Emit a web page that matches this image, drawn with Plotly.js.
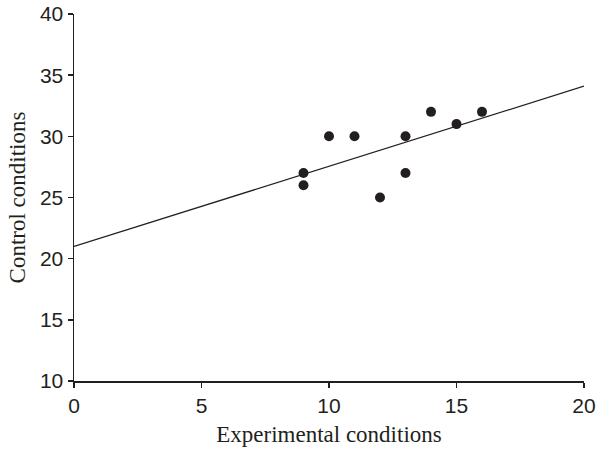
<!DOCTYPE html>
<html>
<head>
<meta charset="utf-8">
<script src="https://cdn.plot.ly/plotly-3.0.1.min.js"></script>
<style>html,body{margin:0;padding:0;background:#fff}#chart{width:602px;height:452px}</style>
</head>
<body>
<div id="chart"></div>
<script>
const pointsX = [9, 9, 10, 11, 12, 13, 13, 14, 15, 16];
const pointsY = [27, 26, 30, 30, 25, 30, 27, 32, 31, 32];
const lineX = [0, 20];
const lineY = [21.0, 34.1];
const xTicks = [0, 5, 10, 15, 20];
const yTicks = [10, 15, 20, 25, 30, 35, 40];

const ink = '#231f20';
const data = [
  {x: lineX, y: lineY, mode: 'lines', type: 'scatter', line: {color: ink, width: 1.3}, hoverinfo: 'skip'},
  {x: pointsX, y: pointsY, mode: 'markers', type: 'scatter', marker: {color: ink, size: 10}}
];
const axisCommon = {
  showgrid: false, zeroline: false, showline: true, linecolor: ink, linewidth: 1.5,
  ticks: 'outside', ticklen: 5, tickwidth: 1.5, tickcolor: ink,
  tickfont: {family: 'Liberation Sans, Arial, sans-serif', size: 21, color: ink}
};
const titleFont = {family: 'Liberation Serif, Times New Roman, serif', size: 23, color: ink};
const layout = {
  width: 602, height: 452,
  margin: {l: 74, r: 18, t: 14, b: 71},
  paper_bgcolor: '#fff', plot_bgcolor: '#fff',
  showlegend: false,
  xaxis: Object.assign({}, axisCommon, {
    range: [0, 20], tickvals: xTicks, ticktext: xTicks.map(String),
    title: {text: 'Experimental conditions', font: titleFont, standoff: 10}
  }),
  yaxis: Object.assign({}, axisCommon, {
    range: [10, 40], tickvals: yTicks, ticktext: yTicks.map(String),
    title: {text: 'Control conditions', font: titleFont, standoff: 8}
  })
};
Plotly.newPlot('chart', data, layout, {displayModeBar: false, staticPlot: true});
</script>
</body>
</html>
